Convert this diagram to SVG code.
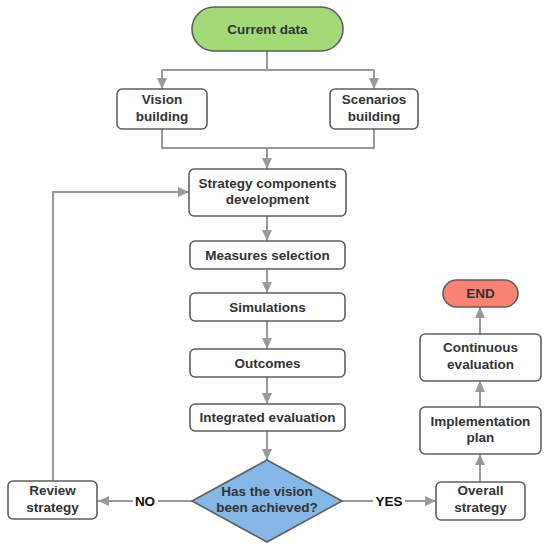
<svg xmlns="http://www.w3.org/2000/svg" width="548" height="550" viewBox="0 0 548 550">
<defs>
<marker id="ah" markerUnits="userSpaceOnUse" markerWidth="12" markerHeight="12" viewBox="0 0 12 12" refX="11" refY="6" orient="auto">
<path d="M0,1 L11,6 L0,11 Z" fill="#999999"/>
</marker>
<style>
.n{fill:#ffffff;stroke:#5f5f5f;stroke-width:1.6}
.t{font-family:"Liberation Sans",Arial,sans-serif;font-weight:bold;font-size:13.5px;fill:#333333;text-anchor:middle}
.l{font-family:"Liberation Sans",Arial,sans-serif;font-weight:bold;font-size:13.5px;fill:#111111;text-anchor:middle}
.c{fill:none;stroke:#999999;stroke-width:2}
.a{fill:none;stroke:#999999;stroke-width:2;marker-end:url(#ah)}
</style>
</defs>
<rect width="548" height="550" fill="#ffffff"/>
<g id="connectors">
<path class="c" d="M267,51 V70 M162,70 H374"/>
<path class="a" d="M162,70 V89"/>
<path class="a" d="M374,70 V89"/>
<path class="c" d="M162,129 V148 H374 V129"/>
<path class="a" d="M267,148 V169"/>
<path class="a" d="M267,216 V241"/>
<path class="a" d="M267,269 V293"/>
<path class="a" d="M267,321 V349"/>
<path class="a" d="M267,377 V404"/>
<path class="a" d="M267,431 V460"/>
<path class="c" d="M192,501 H158"/>
<path class="a" d="M133,501 H98"/>
<path class="c" d="M342,501 H373"/>
<path class="a" d="M405,501 H436"/>
<path class="a" d="M480,482 V454"/>
<path class="a" d="M480,407 V381"/>
<path class="a" d="M480,334 V307"/>
<path class="a" d="M53,481 V192 H189"/>
<text class="l" x="145" y="506">NO</text>
<text class="l" x="389" y="506">YES</text>
</g>
<g id="current-data">
<rect x="192" y="7" width="151" height="44" rx="22" fill="#a3d977" stroke="#5f5f5f" stroke-width="1.6"/>
<text class="t" x="267.5" y="34">Current data</text>
</g>
<g id="vision-building">
<rect class="n" x="117" y="89" width="90" height="40" rx="5"/>
<text class="t" x="162" y="104">Vision</text>
<text class="t" x="162" y="121">building</text>
</g>
<g id="scenarios-building">
<rect class="n" x="330" y="89" width="88" height="40" rx="5"/>
<text class="t" x="374" y="104">Scenarios</text>
<text class="t" x="374" y="121">building</text>
</g>
<g id="strategy-components">
<rect class="n" x="189" y="169" width="157" height="47" rx="5"/>
<text class="t" x="267.5" y="188">Strategy components</text>
<text class="t" x="267.5" y="204">development</text>
</g>
<g id="measures-selection">
<rect class="n" x="190" y="241" width="155" height="28" rx="5"/>
<text class="t" x="267.5" y="260">Measures selection</text>
</g>
<g id="simulations">
<rect class="n" x="190" y="293" width="155" height="28" rx="5"/>
<text class="t" x="267.5" y="312">Simulations</text>
</g>
<g id="outcomes">
<rect class="n" x="190" y="349" width="155" height="28" rx="5"/>
<text class="t" x="267.5" y="368">Outcomes</text>
</g>
<g id="integrated-evaluation">
<rect class="n" x="190" y="404" width="155" height="27" rx="5"/>
<text class="t" x="267.5" y="422">Integrated evaluation</text>
</g>
<g id="decision">
<polygon points="267,460 342,501 267,542 192,501" fill="#85b8e6" stroke="#5f5f5f" stroke-width="1.6"/>
<text class="t" x="267" y="496">Has the vision</text>
<text class="t" x="267" y="512">been achieved?</text>
</g>
<g id="review-strategy">
<rect class="n" x="8" y="481" width="89" height="38" rx="5"/>
<text class="t" x="52.5" y="495">Review</text>
<text class="t" x="52.5" y="512">strategy</text>
</g>
<g id="overall-strategy">
<rect class="n" x="436" y="482" width="89" height="38" rx="5"/>
<text class="t" x="480.5" y="495">Overall</text>
<text class="t" x="480.5" y="512">strategy</text>
</g>
<g id="implementation-plan">
<rect class="n" x="420" y="407" width="121" height="47" rx="5"/>
<text class="t" x="480.5" y="426">Implementation</text>
<text class="t" x="480.5" y="442">plan</text>
</g>
<g id="continuous-evaluation">
<rect class="n" x="420" y="334" width="121" height="47" rx="5"/>
<text class="t" x="480.5" y="352">Continuous</text>
<text class="t" x="480.5" y="369">evaluation</text>
</g>
<g id="end">
<rect x="443" y="280" width="75" height="27" rx="13.5" fill="#fa8273" stroke="#5f5f5f" stroke-width="1.6"/>
<text class="t" x="480.5" y="298">END</text>
</g>
</svg>
